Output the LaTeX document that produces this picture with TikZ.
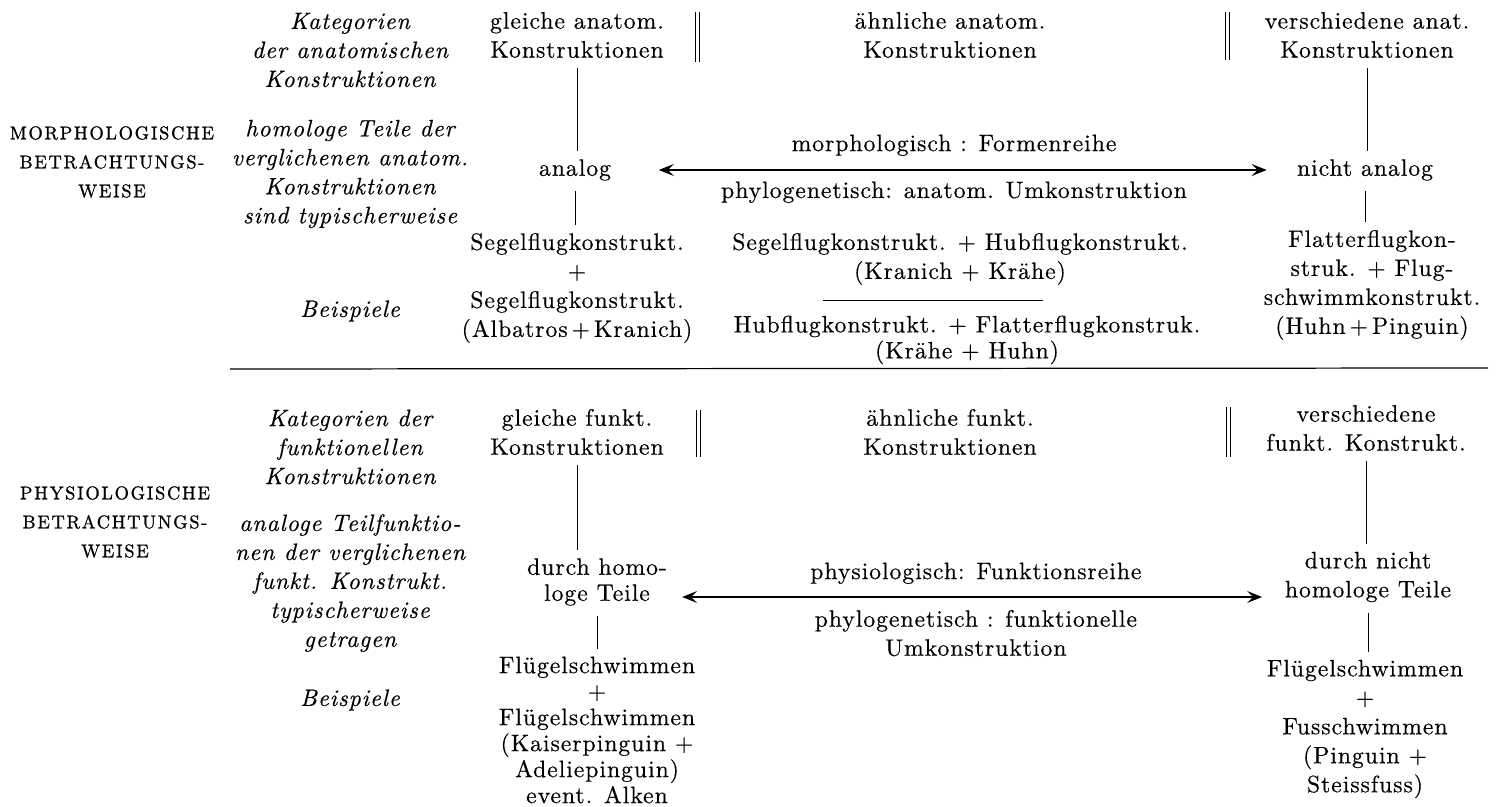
\documentclass[tikz,border=0pt]{standalone}
\usepackage{fontspec}
\setmainfont{lmroman10-regular}[
  Extension=.otf,
  ItalicFont=lmroman10-italic,
  BoldFont=lmroman10-bold,
  LetterSpace=4,
  FakeBold=0.4]
\usetikzlibrary{arrows.meta}

\newcommand\tabfont{\fontsize{13.5}{16.5}\selectfont}

\begin{document}
\begin{tikzpicture}[
  x=0.02cm, y=-0.02cm,
  txt/.style={align=center, inner sep=0pt, font=\tabfont},
  tight/.style={align=center, inner sep=0pt, font=\fontsize{13.5}{14.8}\selectfont},
  cat/.style={align=center, inner sep=0pt, font=\tabfont\itshape},
  mode/.style={align=center, inner sep=0pt,
    font=\fontsize{10.5}{16.5}\selectfont\addfontfeatures{LetterSpace=9,FakeBold=0.8}},
  link/.style={line width=0.5pt, shorten <=0.2cm, shorten >=0.15cm},
  sep/.style={line width=0.45pt},
  series/.style={
    {Stealth[length=3mm,width=2.4mm,inset=1.2mm]}-{Stealth[length=3mm,width=2.4mm,inset=1.2mm]},
    line width=0.6pt},
  ann/.style={txt},
]
\useasboundingbox (0,0) rectangle (1502,807);

\node[mode] (morph) at (112,162) {MORPHOLOGISCHE\\BETRACHTUNGS-\\WEISE};
\node[mode] (phys) at (115,522) {PHYSIOLOGISCHE\\BETRACHTUNGS-\\WEISE};

\node[cat] (katA) at (350,50) {Kategorien\\der anatomischen\\Konstruktionen};
\node[cat] (homA) at (350,174) {homologe Teile der\\verglichenen anatom.\\Konstruktionen\\sind typischerweise};
\node[cat] (beiA) at (350,311) {Beispiele};
\node[cat] (katP) at (350,447) {Kategorien der\\funktionellen\\Konstruktionen};
\node[cat] (anaP) at (350,583) {analoge Teilfunktio-\\nen der verglichenen\\funkt. Konstrukt.\\typischerweise\\getragen};
\node[cat] (beiP) at (350,700) {Beispiele};

\node[txt] (gleichA) at (577,35) {gleiche anatom.\\Konstruktionen};
\node[txt] (analog) at (575,170) {analog};
\node[txt] (exA1) at (577,288) {Segelflugkonstrukt.\\+\\Segelflugkonstrukt.\\(Albatros\,+\,Kranich)};

\node[txt] (aehnA) at (950,35) {ähnliche anatom.\\Konstruktionen};
\node[txt] (exA2) at (960,259) {Segelflugkonstrukt. + Hubflugkonstrukt.\\(Kranich + Krähe)};
\node[tight] (exA3) at (967,340) {Hubflugkonstrukt. + Flatterflugkonstruk.\\(Krähe + Huhn)};

\node[txt] (verschA) at (1367,35) {verschiedene anat.\\Konstruktionen};
\node[txt] (nanalog) at (1365,170) {nicht analog};
\node[txt] (exA4) at (1372,285) {Flatterflugkon-\\struk. + Flug-\\schwimmkonstrukt.\\(Huhn\,+\,Pinguin)};

\node[txt] (gleichP) at (577,432) {gleiche funkt.\\Konstruktionen};
\node[tight] (homP) at (597,582) {durch homo-\\loge Teile};
\node[tight] (exP1) at (597,730) {Flügelschwimmen\\+\\Flügelschwimmen\\(Kaiserpinguin +\\Adeliepinguin)\\event. Alken};

\node[txt] (aehnP) at (950,432) {ähnliche funkt.\\Konstruktionen};

\node[txt] (verschP) at (1366,428) {verschiedene\\funkt. Konstrukt.};
\node[txt] (nhomP) at (1368,577) {durch nicht\\homologe Teile};
\node[txt] (exP2) at (1365,729) {Flügelschwimmen\\+\\Fusschwimmen\\(Pinguin +\\Steissfuss)};

\draw[link] (gleichA.south) -- (gleichA.south |- analog.north);
\draw[link] (analog.south) -- (analog.south |- exA1.north);
\draw[link] (verschA.south) -- (verschA.south |- nanalog.north);
\draw[link] (nanalog.south) -- (nanalog.south |- exA4.north);
\draw[link] (gleichP.south) -- (gleichP.south |- homP.north);
\draw[link] (homP.south) -- (homP.south |- exP1.north);
\draw[link] (verschP.south) -- (verschP.south |- nhomP.north);
\draw[link] (nhomP.south) -- (nhomP.south |- exP2.north);

\draw[series, shorten <=0.95cm, shorten >=0.6cm] (analog.east) --
  node[ann, above=0.27cm] {morphologisch : Formenreihe}
  node[ann, below=0.22cm] {phylogenetisch: anatom. Umkonstruktion}
  (analog.east -| nanalog.west);
\draw[series, shorten <=0.3cm, shorten >=0.45cm] ([yshift=-0.3cm]homP.east) --
  node[ann, above=0.25cm] {physiologisch: Funktionsreihe}
  node[ann, below=0.25cm] {phylogenetisch : funktionelle\\Umkonstruktion}
  ([yshift=-0.3cm]homP.east -| nhomP.west);

\draw[line width=0.5pt] (823,300) -- (1043,300);
\draw[line width=0.7pt] (230,369) -- (1488,368);

\draw[sep] (695,12) -- (695,62) (699,12) -- (699,62);
\draw[sep] (1225,12) -- (1225,60) (1229,12) -- (1229,60);
\draw[sep] (696,410) -- (696,457) (700,410) -- (700,457);
\draw[sep] (1226,407) -- (1226,457) (1230,407) -- (1230,457);

\end{tikzpicture}
\end{document}
